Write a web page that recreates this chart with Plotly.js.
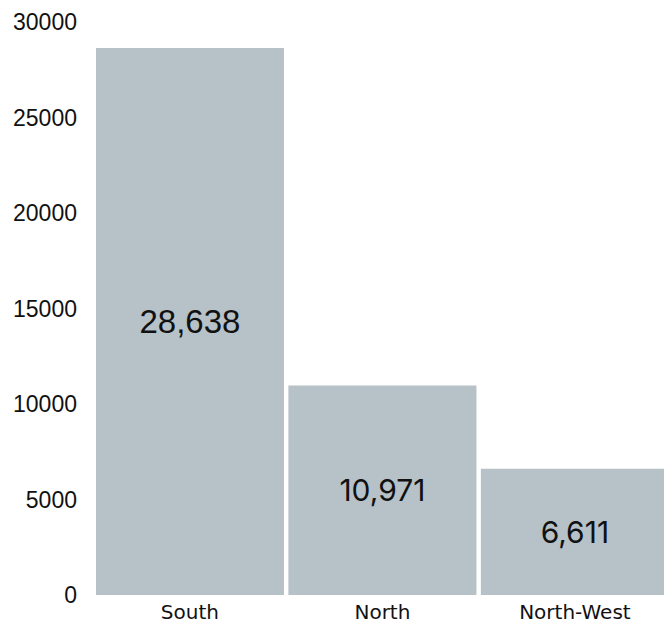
<!DOCTYPE html>
<html>
<head>
<meta charset="utf-8">
<script src="https://cdn.plot.ly/plotly-3.0.1.min.js"></script>
<style>html,body{margin:0;padding:0;background:#fff;}#chart{width:664px;height:625px;}</style>
</head>
<body>
<div id="chart"></div>
<script>
const categories = ["South", "North", "North-West"];
const values = [28638, 10971, 6611];
const yTickValues = [0, 5000, 10000, 15000, 20000, 25000, 30000];

const data = [{
  type: "bar",
  x: categories,
  y: values,
  text: values.map(v => v.toLocaleString("en-US")),
  textposition: "inside",
  insidetextanchor: "middle",
  textfont: {
    family: ["'Liberation Sans', Arial, sans-serif", "Inter, sans-serif", "Inter, sans-serif"],
    size: [33, 30, 30],
    color: "#111"
  },
  marker: {color: "#b6c1c8"},
  hoverinfo: "none"
}];
const layout = {
  width: 664, height: 625,
  margin: {l: 96, r: 0, t: 22, b: 30},
  paper_bgcolor: "#fff", plot_bgcolor: "#fff",
  bargap: 0.023,
  showlegend: false,
  xaxis: {
    range: [-0.488, 2.463],
    showgrid: false, zeroline: false, showline: false,
    tickfont: {family: "'DejaVu Sans', sans-serif", size: 20, color: "#111"},
    ticklabelstandoff: 3
  },
  yaxis: {
    range: [0, 30000],
    tickvals: yTickValues,
    ticktext: yTickValues.map(String),
    showgrid: false, zeroline: false, showline: false,
    tickfont: {family: "'Liberation Sans', Arial, sans-serif", size: 23, color: "#111"},
    ticklabelstandoff: 18
  }
};
Plotly.newPlot("chart", data, layout, {staticPlot: true});
</script>
</body>
</html>
